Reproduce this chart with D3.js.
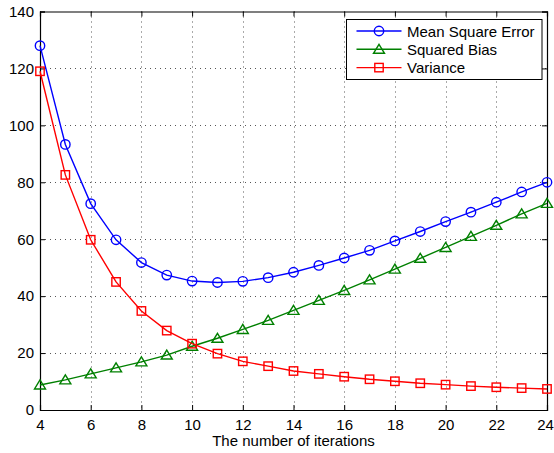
<!DOCTYPE html>
<html>
<head>
<meta charset="utf-8">
<script src="https://cdn.jsdelivr.net/npm/d3@7"></script>
<style>
  html, body { margin: 0; padding: 0; background: #fff; }
  svg { display: block; font-family: "Liberation Sans", Arial, Helvetica, sans-serif; }
</style>
</head>
<body>
<svg id="chart" width="554" height="453"></svg>
<script>
// Iteration counts on the horizontal axis
const iterations = [4,5,6,7,8,9,10,11,12,13,14,15,16,17,18,19,20,21,22,23,24];

// Error decomposition per iteration count
const mseValues      = [128.0,93.3,72.5,59.8,51.8,47.4,45.3,44.8,45.2,46.5,48.4,50.8,53.4,56.1,59.4,62.7,66.2,69.5,73.0,76.6,80.0];
const biasValues     = [8.8,10.6,12.7,14.8,16.9,19.3,22.4,25.2,28.3,31.5,35.0,38.5,42.0,45.7,49.5,53.3,57.1,61.0,64.9,68.9,72.6];
const varianceValues = [119.0,82.6,59.8,45.0,34.8,27.9,23.3,19.8,17.1,15.4,13.7,12.7,11.7,10.8,10.1,9.4,8.9,8.4,8.0,7.7,7.4];

const seriesNames  = ["Mean Square Error", "Squared Bias", "Variance"];
const seriesColors = ["#0000ff", "#008000", "#ff0000"];
const seriesShapes = ["circle", "triangle", "square"];

const xTicks = [4,6,8,10,12,14,16,18,20,22,24];
const yTicks = [0,20,40,60,80,100,120,140];
const xTitle = "The number of iterations";

const series = [mseValues, biasValues, varianceValues].map((vals, i) => ({
  name: seriesNames[i], color: seriesColors[i], shape: seriesShapes[i],
  points: iterations.map((x, j) => ({ x, y: vals[j] }))
}));

const svg = d3.select("#chart");
const plotLeft = 40, plotRight = 547, plotTop = 11.5, plotBottom = 410;
const fontSize = 15;

const x = d3.scaleLinear().domain([4, 24]).range([plotLeft, plotRight]);
const y = d3.scaleLinear().domain([0, 140]).range([plotBottom, plotTop]);

// Dotted grid
const grid = svg.append("g").attr("stroke", "#555").attr("stroke-width", 1)
  .attr("stroke-dasharray", "1,4").attr("fill", "none");
xTicks.slice(1, -1).forEach(t => {
  grid.append("line").attr("x1", Math.round(x(t)) + 0.5).attr("x2", Math.round(x(t)) + 0.5)
    .attr("y1", plotTop).attr("y2", plotBottom);
});
yTicks.slice(1, -1).forEach(t => {
  grid.append("line").attr("y1", Math.round(y(t)) + 0.5).attr("y2", Math.round(y(t)) + 0.5)
    .attr("x1", plotLeft).attr("x2", plotRight);
});

// Axes with inward ticks on all four sides
const axisFont = g => g.selectAll("text").attr("font-size", fontSize)
  .attr("font-family", "'Liberation Sans', Arial, sans-serif").attr("fill", "#000");

svg.append("g").attr("transform", `translate(0,${plotBottom})`)
  .call(d3.axisBottom(x).tickValues(xTicks).tickSize(-5).tickPadding(9).tickFormat(d3.format("d")))
  .call(axisFont)
  .call(g => g.select(".domain").attr("stroke-width", 1.2))
  // keep the last label inside the window edge
  .call(g => g.selectAll(".tick text").filter(d => d === xTicks[xTicks.length - 1]).attr("dx", -2));

svg.append("g").attr("transform", `translate(${plotLeft},0)`)
  .call(d3.axisLeft(y).tickValues(yTicks).tickSize(-5).tickPadding(6).tickFormat(d3.format("d")))
  .call(axisFont)
  .call(g => g.select(".domain").attr("stroke-width", 1.2));

svg.append("g").attr("transform", `translate(0,${plotTop})`)
  .call(d3.axisTop(x).tickValues(xTicks).tickSize(-5).tickFormat(""))
  .call(g => g.select(".domain").attr("stroke-width", 1.2));

svg.append("g").attr("transform", `translate(${plotRight},0)`)
  .call(d3.axisRight(y).tickValues(yTicks).tickSize(-5).tickFormat(""))
  .call(g => g.select(".domain").attr("stroke-width", 1.2));

svg.selectAll(".tick line").attr("stroke", "#000");
svg.selectAll(".domain").attr("stroke", "#000");

// Axis title
svg.append("text").attr("x", (plotLeft + plotRight) / 2).attr("y", 446)
  .attr("text-anchor", "middle").attr("font-size", fontSize).text(xTitle);

// Marker drawing
function drawMarker(g, shape, cx, cy, color) {
  if (shape === "circle") {
    g.append("circle").attr("cx", cx).attr("cy", cy).attr("r", 4.7)
      .attr("fill", "none").attr("stroke", color).attr("stroke-width", 1.4);
  } else if (shape === "square") {
    g.append("rect").attr("x", cx - 4.2).attr("y", cy - 4.2).attr("width", 8.4).attr("height", 8.4)
      .attr("fill", "none").attr("stroke", color).attr("stroke-width", 1.4);
  } else {
    g.append("path").attr("d", `M${cx},${cy - 5}L${cx + 5.5},${cy + 4}L${cx - 5.5},${cy + 4}Z`)
      .attr("fill", "none").attr("stroke", color).attr("stroke-width", 1.4);
  }
}

const line = d3.line().x(d => x(d.x)).y(d => y(d.y));

series.forEach(s => {
  const g = svg.append("g");
  g.append("path").datum(s.points).attr("d", line)
    .attr("fill", "none").attr("stroke", s.color).attr("stroke-width", 1.4);
  s.points.forEach(p => drawMarker(g, s.shape, x(p.x), y(p.y), s.color));
});

// Legend
const legend = svg.append("g");
legend.append("rect").attr("x", 346.5).attr("y", 19.5).attr("width", 195.5).attr("height", 60)
  .attr("fill", "#fff").attr("stroke", "#000").attr("stroke-width", 1);
series.forEach((s, i) => {
  const ly = 31 + i * 18.3;
  legend.append("line").attr("x1", 356.5).attr("x2", 401.5).attr("y1", ly).attr("y2", ly)
    .attr("stroke", s.color).attr("stroke-width", 1.4);
  drawMarker(legend, s.shape, 379, ly, s.color);
  legend.append("text").attr("x", 407).attr("y", ly + 5.5).attr("font-size", fontSize).text(s.name);
});
</script>
</body>
</html>
